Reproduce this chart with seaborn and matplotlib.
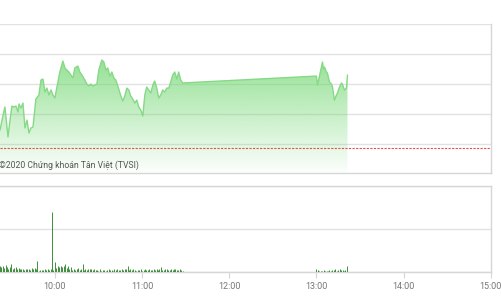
import numpy as np
import pandas as pd
import matplotlib
matplotlib.use("Agg")
import matplotlib.pyplot as plt
import seaborn as sns
from matplotlib.colors import to_rgb

sns.set_theme(style="white")
plt.rcParams['font.family'] = ['Roboto', 'DejaVu Sans']

# ---- data (minutes after 09:00) ----
price_minutes = [22.2, 24.3, 25.6, 27.7, 29.1, 30.4, 31.8, 33.2, 34.6, 35.3, 36.6, 38.0, 39.4, 40.8,
                 42.1, 43.5, 44.9, 46.9, 49.0, 50.4, 51.8, 53.1, 54.5, 55.9, 57.3, 58.6, 60.0, 61.4,
                 63.4, 65.5, 66.9, 68.2, 69.6, 71.0, 72.4, 73.7, 75.8, 77.2, 78.6, 80.6, 82.0, 83.4,
                 84.7, 86.1, 87.5, 88.9, 90.2, 92.3, 93.7, 95.1, 96.4, 97.8, 99.2, 100.6, 101.9, 103.3,
                 105.4, 106.7, 108.1, 109.5, 110.9, 112.2, 113.6, 115.0, 116.4, 117.7, 119.1, 120.5,
                 121.9, 123.2, 124.6, 126.0, 127.4, 128.7, 130.1, 131.5, 132.9, 134.2, 135.6, 137.0,
                 138.4, 139.7, 141.1, 142.5, 143.9, 145.2, 146.6, 148.0,
                 240.0, 240.8, 244.2, 244.9, 245.6, 246.9, 247.6, 249.0, 250.4, 251.1, 252.4, 253.8,
                 254.5, 255.9, 257.3, 257.9, 259.3, 260.7, 261.4]
price_values = [882.93, 883.93, 884.47, 882.47, 883.60, 884.53, 884.47, 884.53, 884.13, 884.67, 884.40,
                884.73, 883.07, 883.60, 882.73, 883.07, 883.13, 885.00, 885.27, 886.27, 886.33, 885.47,
                885.73, 885.27, 885.60, 885.27, 885.07, 885.80, 886.80, 887.53, 887.07, 886.93, 886.80,
                886.60, 886.40, 887.07, 887.20, 886.80, 886.60, 886.27, 886.00, 885.87, 886.00, 885.87,
                885.93, 886.00, 886.93, 887.60, 887.47, 886.93, 887.07, 886.53, 886.80, 886.40, 886.27,
                885.87, 885.20, 884.87, 885.20, 885.73, 885.60, 885.20, 885.00, 884.73, 884.93, 884.47,
                884.27, 883.87, 885.27, 885.80, 885.60, 885.40, 885.93, 886.20, 885.73, 885.07, 885.27,
                885.60, 885.47, 885.73, 885.73, 886.13, 886.60, 886.80, 886.33, 886.80, 886.27, 886.07,
                886.53, 885.93, 887.47, 887.00, 887.13, 886.80, 886.73, 886.13, 886.00, 885.80, 884.93,
                885.27, 885.40, 885.80, 886.07, 886.00, 885.60, 885.73, 886.60]
reference_price = 881.73

volume_minutes = list(range(22, 149)) + list(range(240, 262))
volume_values = [0.28, 0.22, 0.30, 0.18, 0.33, 0.25, 0.15, 0.22, 0.37, 0.14, 0.20, 0.25, 0.12, 0.18,
                 0.16, 0.12, 0.15, 0.10, 0.14, 0.12, 0.16, 0.10, 0.18, 0.14, 0.20, 0.12, 0.51, 0.06,
                 0.08, 0.10, 0.07, 0.12, 0.09, 0.14, 0.11, 0.16, 2.79, 0.08, 0.47, 0.18, 0.30, 0.25,
                 0.28, 0.22, 0.30, 0.37, 0.20, 0.28, 0.14, 0.22, 0.10, 0.16, 0.08, 0.14, 0.18, 0.10,
                 0.12, 0.35, 0.08, 0.14, 0.10, 0.16, 0.12, 0.14, 0.09, 0.12, 0.08, 0.10, 0.06, 0.12,
                 0.05, 0.08, 0.10, 0.06, 0.09, 0.12, 0.07, 0.10, 0.05, 0.12, 0.09, 0.14, 0.08, 0.11,
                 0.16, 0.10, 0.12, 0.14, 0.28, 0.10, 0.16, 0.07, 0.12, 0.09, 0.06, 0.10, 0.08, 0.12,
                 0.05, 0.09, 0.12, 0.07, 0.10, 0.14, 0.08, 0.11, 0.16, 0.09, 0.12, 0.08, 0.14, 0.21,
                 0.10, 0.07, 0.12, 0.15, 0.08, 0.10, 0.14, 0.09, 0.12, 0.16, 0.08, 0.10, 0.13, 0.07,
                 0.05,
                 0.12, 0.08, 0.05, 0.06, 0.04, 0.07, 0.05, 0.06, 0.04, 0.08, 0.06, 0.10, 0.07, 0.12,
                 0.06, 0.09, 0.14, 0.08, 0.11, 0.05, 0.09, 0.26]

tick_minutes = [60, 120, 180, 240, 300, 360]
tick_labels = ["10:00", "11:00", "12:00", "13:00", "14:00", "15:00"]
price_grid = [882, 884, 886, 888, 890]
volume_grid = [0, 2, 4]

price_df = pd.DataFrame({"minute": price_minutes, "price": price_values})
volume_df = pd.DataFrame({"minute": volume_minutes, "volume": volume_values})

# ---- figure ----
W, H = 501, 300
fig = plt.figure(figsize=(W / 100, H / 100), dpi=100)
fig.patch.set_facecolor("white")

xmin, xmax = 22.2, 360.0
axw = 490.7 / W
ax1 = fig.add_axes([0.0, (H - 173) / H, axw, 149 / H])
ax2 = fig.add_axes([0.0, (H - 272) / H, axw, 86 / H])

grid_c = "#e2e2e2"
spine_c = "#d6d6d6"
label_c = "#777777"

# top panel
ylo, yhi = 880.07, 890.0
ax1.set_xlim(xmin, xmax)
ax1.set_ylim(ylo, yhi)
fill = ax1.fill_between(price_df["minute"], price_df["price"], ylo, color="none", lw=0)
base = np.array(to_rgb("#6ed66e"))
n = 256
alpha = np.linspace(0.95, 0.02, n)[:, None]
grad = np.zeros((n, 1, 4))
grad[..., :3] = base
grad[..., 3] = alpha
im = ax1.imshow(grad, extent=[xmin, xmax, ylo, yhi], aspect="auto", origin="upper", zorder=1)
im.set_clip_path(fill.get_paths()[0], transform=ax1.transData)
sns.lineplot(data=price_df, x="minute", y="price", ax=ax1, color="#86d986", linewidth=1.0, zorder=3)
ax1.axhline(reference_price, color="#d9534f", linestyle=(0, (2, 1.2)), linewidth=0.8, zorder=4)
ax1.set_yticks(price_grid)
ax1.set_yticklabels([])
ax1.grid(axis="y", color=grid_c, linewidth=1)
ax1.set_axisbelow(True)
ax1.set_xticks([])
ax1.tick_params(axis="y", length=0)
ax1.set_xlabel("")
ax1.set_ylabel("")
for s in ["left", "top"]:
    ax1.spines[s].set_visible(False)
for s in ["right", "bottom"]:
    ax1.spines[s].set_color(spine_c)
    ax1.spines[s].set_linewidth(1)
ax1.text(xmin - 1.0, 880.25, "©2020 Chứng khoán Tân Việt (TVSI)", fontsize=6.2,
         color="#555555", ha="left", va="bottom", zorder=5)

# bottom panel
ax2.set_xlim(xmin, xmax)
ax2.set_ylim(volume_grid[0], volume_grid[-1])
ax2.vlines(volume_df["minute"], 0, volume_df["volume"], color="#1e7d1e", linewidth=0.6, zorder=3)
ax2.set_yticks(volume_grid)
ax2.set_yticklabels([])
ax2.grid(axis="y", color=grid_c, linewidth=1)
ax2.set_axisbelow(True)
ax2.tick_params(axis="y", length=0)
ax2.set_xticks(tick_minutes)
ax2.set_xticklabels(tick_labels)
ax2.tick_params(axis="x", length=4, width=0.8, color=spine_c, pad=3, labelsize=6.5, labelcolor=label_c,
                bottom=True)
ax2.set_xlabel("")
ax2.set_ylabel("")
ax2.spines["left"].set_visible(False)
for s in ["right", "bottom", "top"]:
    ax2.spines[s].set_color(spine_c)
    ax2.spines[s].set_linewidth(1)

fig.savefig("out.png", dpi=100, facecolor="white")
